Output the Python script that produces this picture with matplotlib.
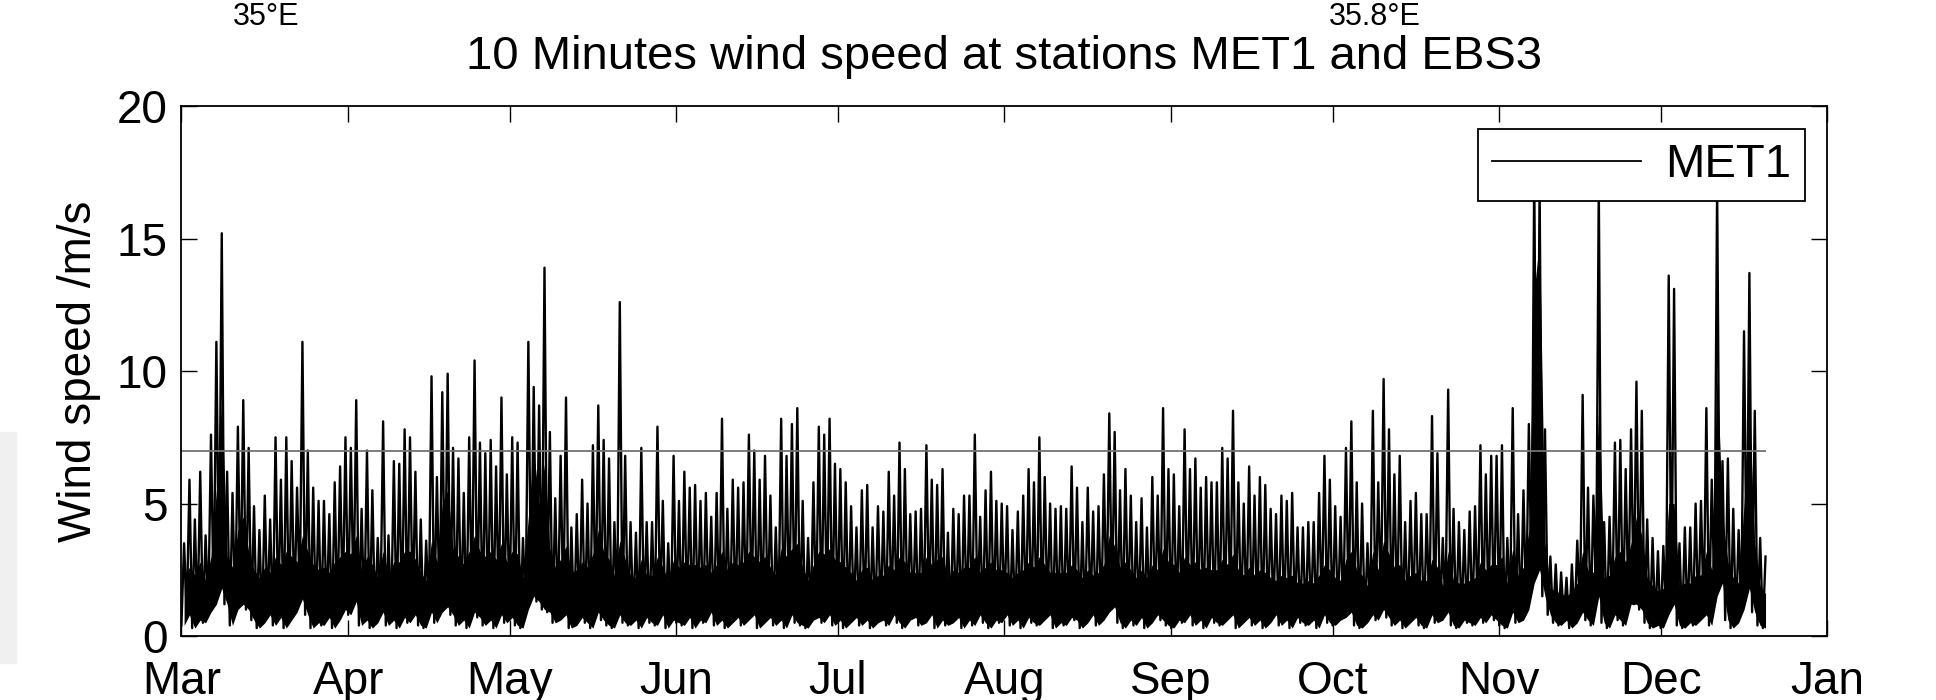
import numpy as np
import matplotlib
matplotlib.use("Agg")
import matplotlib.pyplot as plt
import matplotlib.dates as mdates
from matplotlib.patches import Rectangle

plt.rcParams['font.family'] = ['Liberation Sans', 'DejaVu Sans']

# MET1 10-minute wind speed summarised per day (m/s), starting 1 March:
# afternoon maximum, night-time minimum and daily mean
start_day = np.datetime64('2011-03-01')

daily_max = [
    3.5, 5.9, 4.4, 6.2, 3.8, 7.6, 11.1, 15.2, 6.2, 5.4,
    7.9, 8.9, 7.1, 4.9, 4.0, 5.3, 4.4, 7.5, 5.9, 7.5,
    6.6, 5.6, 11.1, 7.0, 5.6, 5.1, 5.1, 4.6, 5.8, 6.4,
    7.5, 7.1, 8.9, 4.8, 7.0, 5.5, 3.7, 8.1, 3.8, 6.6,
    6.5, 7.8, 7.5, 6.2, 4.4, 3.6, 9.8, 6.0, 9.2, 9.9,
    7.1, 6.7, 5.4, 7.5, 10.4, 7.3, 6.9, 7.4, 6.4, 9.0,
    6.1, 7.5, 7.3, 3.7, 11.1, 9.4, 8.7, 13.9, 7.7, 5.2,
    6.8, 9.0, 4.1, 4.6, 5.9, 5.0, 7.2, 8.7, 7.4, 6.7,
    4.3, 12.6, 6.8, 4.3, 3.9, 7.1, 4.3, 4.3, 7.9, 5.1,
    3.5, 6.8, 5.1, 6.2, 5.6, 5.7, 5.1, 5.4, 4.5, 5.4,
    8.2, 4.8, 5.9, 5.6, 5.8, 7.6, 7.0, 5.9, 6.8, 5.3,
    4.1, 8.2, 6.8, 8.0, 8.6, 5.1, 3.7, 5.8, 7.9, 7.6,
    8.2, 6.5, 6.3, 5.8, 4.9, 4.1, 5.5, 5.7, 4.1, 4.9,
    4.7, 6.2, 5.3, 7.3, 6.3, 4.6, 4.7, 4.8, 7.2, 5.9,
    5.7, 6.3, 3.9, 4.8, 4.6, 5.3, 5.3, 7.6, 4.5, 5.5,
    6.2, 5.1, 5.0, 4.9, 4.0, 4.7, 5.3, 6.3, 5.8, 7.5,
    6.0, 5.0, 4.8, 4.9, 4.8, 6.4, 5.6, 4.3, 5.6, 4.7,
    4.9, 6.1, 8.4, 7.7, 5.5, 6.3, 5.3, 4.3, 5.2, 4.1,
    6.0, 5.3, 8.6, 6.3, 6.1, 4.9, 7.8, 6.3, 6.7, 5.6,
    6.0, 5.8, 5.8, 7.1, 6.7, 8.5, 5.8, 5.0, 6.4, 5.3,
    6.0, 5.7, 4.8, 4.6, 5.3, 5.1, 5.4, 4.1, 4.1, 4.3,
    4.3, 5.4, 6.8, 5.9, 4.9, 4.5, 7.1, 8.1, 5.8, 5.0,
    3.5, 8.5, 5.8, 9.7, 7.8, 6.1, 6.8, 4.3, 5.1, 5.4,
    4.6, 4.6, 8.3, 6.9, 3.7, 9.3, 4.8, 4.3, 4.0, 4.7,
    4.9, 7.2, 6.1, 6.8, 6.8, 7.2, 3.7, 8.6, 4.6, 5.5,
    8.0, 17.5, 17.0, 7.8, 3.0, 2.7, 2.4, 2.2, 2.7, 3.6,
    9.1, 5.6, 5.3, 17.0, 4.3, 4.5, 7.3, 7.4, 6.3, 7.8,
    9.6, 8.5, 4.4, 3.7, 3.2, 3.4, 13.6, 13.1, 3.5, 4.1,
    4.1, 5.0, 5.1, 8.6, 5.9, 17.0, 6.6, 6.7, 4.8, 4.0,
    11.5, 13.7, 8.5, 3.7, 3.0,
]

daily_min = [
    0.4, 0.8, 0.3, 0.6, 0.5, 0.9, 1.2, 1.8, 1.2, 0.4,
    1.0, 1.2, 1.0, 0.6, 0.3, 0.5, 0.8, 0.4, 0.7, 0.3,
    0.6, 0.9, 1.4, 0.8, 0.3, 0.5, 0.4, 0.7, 0.3, 0.6,
    1.0, 0.8, 1.3, 0.4, 0.6, 0.3, 0.5, 0.9, 0.4, 0.6,
    0.3, 0.7, 0.5, 0.8, 0.4, 0.3, 0.9, 0.5, 0.9, 1.1,
    0.8, 0.4, 0.6, 0.3, 0.9, 0.7, 0.4, 0.6, 0.3, 0.8,
    0.5, 0.7, 0.4, 0.3, 1.0, 1.5, 1.3, 1.0, 0.9, 0.5,
    0.6, 0.8, 0.3, 0.4, 0.7, 0.5, 0.3, 0.9, 0.6, 0.4,
    0.3, 0.8, 0.5, 0.4, 0.6, 0.3, 0.7, 0.5, 0.4, 0.8,
    0.3, 0.6, 0.5, 0.4, 0.7, 0.3, 0.6, 0.5, 0.9, 0.4,
    0.6, 0.3, 0.5, 0.7, 0.4, 0.6, 0.8, 0.3, 0.5, 0.7,
    0.4, 0.6, 0.3, 0.8, 0.5, 0.4, 0.3, 0.6, 0.7, 0.5,
    0.8, 0.4, 0.6, 0.3, 0.5, 0.7, 0.4, 0.6, 0.3, 0.5,
    0.6, 0.4, 0.8, 0.5, 0.3, 0.6, 0.7, 0.4, 0.5, 0.8,
    0.3, 0.6, 0.4, 0.5, 0.7, 0.3, 0.6, 0.4, 0.8, 0.5,
    0.3, 0.6, 0.5, 0.8, 0.4, 0.6, 0.3, 0.7, 0.5, 0.4,
    0.6, 0.8, 0.3, 0.5, 0.4, 0.7, 0.6, 0.3, 0.5, 0.8,
    0.4, 0.6, 0.9, 1.1, 0.5, 0.3, 0.6, 0.4, 0.7, 0.3,
    0.5, 0.8, 0.6, 0.4, 0.3, 0.6, 0.5, 0.8, 0.4, 0.6,
    0.3, 0.7, 0.5, 0.4, 0.6, 0.8, 0.3, 0.5, 0.7, 0.4,
    0.6, 0.3, 0.5, 0.8, 0.4, 0.6, 0.3, 0.7, 0.5, 0.4,
    0.6, 0.3, 0.8, 0.5, 0.4, 0.6, 0.7, 0.9, 0.4, 0.3,
    0.5, 0.8, 0.6, 1.0, 0.7, 0.4, 0.6, 0.3, 0.5, 0.7,
    0.4, 0.3, 0.8, 0.5, 0.6, 0.9, 0.4, 0.3, 0.6, 0.5,
    0.4, 0.7, 0.5, 0.8, 0.6, 0.4, 0.3, 0.9, 0.5, 0.6,
    1.0, 2.0, 2.5, 1.5, 0.8, 0.5, 0.4, 0.6, 0.3, 0.5,
    0.9, 0.6, 0.4, 1.5, 0.5, 0.3, 0.8, 0.6, 0.4, 1.2,
    1.2, 1.0, 0.5, 0.3, 0.4, 0.3, 0.8, 1.2, 0.4, 0.3,
    0.5, 0.4, 0.6, 0.8, 0.4, 1.5, 2.0, 0.6, 0.3, 0.5,
    1.0, 1.8, 0.9, 0.4, 0.3,
]

daily_mean = [
    2.2, 2.6, 2.3, 2.8, 2.1, 3.0, 5.5, 9.0, 3.0, 2.6,
    4.0, 4.5, 3.2, 2.5, 2.2, 2.6, 2.4, 3.0, 2.7, 3.2,
    3.0, 2.8, 3.8, 3.2, 2.7, 2.5, 2.6, 2.4, 2.8, 3.0,
    3.2, 3.1, 3.8, 2.5, 3.0, 2.7, 2.2, 3.2, 2.3, 2.8,
    2.8, 3.2, 3.2, 2.9, 2.4, 2.1, 3.6, 2.8, 5.0, 5.5,
    3.3, 3.0, 2.7, 3.2, 3.8, 3.2, 3.0, 3.2, 2.9, 3.5,
    2.8, 3.2, 3.1, 2.2, 4.5, 7.0, 5.0, 6.5, 3.3, 2.6,
    2.9, 3.4, 2.4, 2.5, 2.8, 2.6, 3.1, 4.0, 3.2, 2.9,
    2.3, 3.6, 2.9, 2.3, 2.2, 2.9, 2.3, 2.3, 3.0, 2.6,
    2.1, 2.9, 2.6, 2.8, 2.7, 2.7, 2.6, 2.7, 2.4, 2.7,
    3.2, 2.5, 2.8, 2.7, 2.8, 3.2, 3.0, 2.8, 3.0, 2.6,
    2.3, 3.3, 3.0, 3.3, 3.5, 2.6, 2.1, 2.7, 3.2, 3.1,
    3.3, 2.9, 2.8, 2.6, 2.4, 2.1, 2.5, 2.6, 2.1, 2.3,
    2.3, 2.7, 2.5, 3.0, 2.8, 2.4, 2.4, 2.4, 3.0, 2.7,
    2.9, 3.0, 2.2, 2.5, 2.4, 2.6, 2.6, 3.0, 2.4, 2.6,
    2.8, 2.5, 2.5, 2.4, 2.2, 2.4, 2.5, 2.8, 2.6, 3.0,
    2.7, 2.4, 2.4, 2.4, 2.4, 2.7, 2.5, 2.2, 2.5, 2.3,
    2.4, 2.7, 3.8, 3.4, 2.6, 2.8, 2.5, 2.2, 2.5, 2.2,
    2.7, 2.5, 3.3, 2.8, 2.7, 2.4, 3.0, 2.7, 2.8, 2.5,
    2.6, 2.5, 2.5, 2.9, 2.7, 3.1, 2.5, 2.3, 2.6, 2.3,
    2.5, 2.4, 2.2, 2.1, 2.3, 2.2, 2.3, 2.0, 2.0, 2.1,
    2.0, 2.3, 2.7, 2.5, 2.2, 2.1, 2.9, 3.2, 2.5, 2.3,
    1.9, 3.2, 2.5, 3.6, 3.1, 2.6, 2.7, 2.1, 2.3, 2.4,
    2.1, 2.1, 2.9, 2.6, 1.9, 3.2, 2.1, 2.0, 2.0, 2.1,
    2.2, 2.8, 2.5, 2.7, 2.7, 3.0, 2.0, 3.3, 2.3, 2.6,
    4.0, 13.0, 15.0, 3.5, 1.8, 1.7, 1.6, 1.5, 1.7, 2.0,
    3.2, 2.5, 2.4, 9.0, 2.2, 2.3, 3.0, 3.2, 2.8, 3.5,
    4.5, 3.8, 2.2, 1.9, 1.7, 1.8, 5.0, 5.0, 1.9, 2.0,
    2.0, 2.3, 2.3, 3.2, 2.5, 10.0, 4.5, 2.8, 2.2, 2.0,
    5.0, 8.5, 3.5, 1.9, 1.6,
]

threshold = 7.0
month_labels = ['Mar', 'Apr', 'May', 'Jun', 'Jul', 'Aug',
                'Sep', 'Oct', 'Nov', 'Dec', 'Jan']
yticks = [0, 5, 10, 15, 20]

# interleave minimum (night) and maximum (afternoon) of each day
t0 = mdates.date2num(start_day)
day = t0 + np.arange(len(daily_max))
t = np.empty(2 * len(day))
v = np.empty(2 * len(day))
t[0::2] = day
t[1::2] = day + 0.5
v[0::2] = daily_min
v[1::2] = daily_max

fig = plt.figure(figsize=(19.36, 7.0), dpi=100)
ax = fig.add_axes([0.0937, 0.0914, 0.8502, 0.7571])

# dense part of the record: the bulk of each day between minimum and mean
ax.fill_between(day + 0.5, daily_min, daily_mean, color='black', lw=0)
line, = ax.plot(t, v, color='black', lw=1.7)
ax.hlines(threshold, t[0], t[-1], color='0.45', lw=1.3)

month_starts = np.arange(np.datetime64('2011-03'), np.datetime64('2012-02'))
ax.set_xticks(mdates.date2num(month_starts.astype('datetime64[D]')))
ax.set_xticklabels(month_labels)
ax.set_xlim(mdates.date2num(np.datetime64('2011-03-01')),
            mdates.date2num(np.datetime64('2012-01-01')))
ax.set_ylim(0, 20)
ax.set_yticks(yticks)

ax.tick_params(axis='both', direction='in', length=11.5, width=1.0,
               labelsize=33, top=True, right=True)
ax.tick_params(axis='x', pad=17)
ax.tick_params(axis='y', pad=10)
for s in ax.spines.values():
    s.set_linewidth(1.3)

ax.set_ylabel('Wind speed /m/s', fontsize=33, labelpad=11)
ax.set_title('10 Minutes wind speed at stations MET1 and EBS3', fontsize=34, pad=27)

handle = plt.Line2D([], [], color='black', lw=1.3)
leg = ax.legend([handle], ['MET1'], loc='upper right', bbox_to_anchor=(0.9864, 0.9566),
                borderaxespad=0, fancybox=False, edgecolor='black', framealpha=1,
                fontsize=34, handlelength=3.15, handletextpad=0.5, borderpad=0.3)
leg.get_frame().set_linewidth(1.3)

# longitude labels of the map panel above
fig.text(266 / 1936, 0.964, '35°E', fontsize=22, ha='center', va='baseline')
fig.text(1375 / 1936, 0.964, '35.8°E', fontsize=22, ha='center', va='baseline')

fig.patches.append(Rectangle((0, 37 / 700), 16 / 1936, 231 / 700,
                             transform=fig.transFigure, color='#f0f0f0', zorder=0))

fig.savefig('out.png', dpi=100)
